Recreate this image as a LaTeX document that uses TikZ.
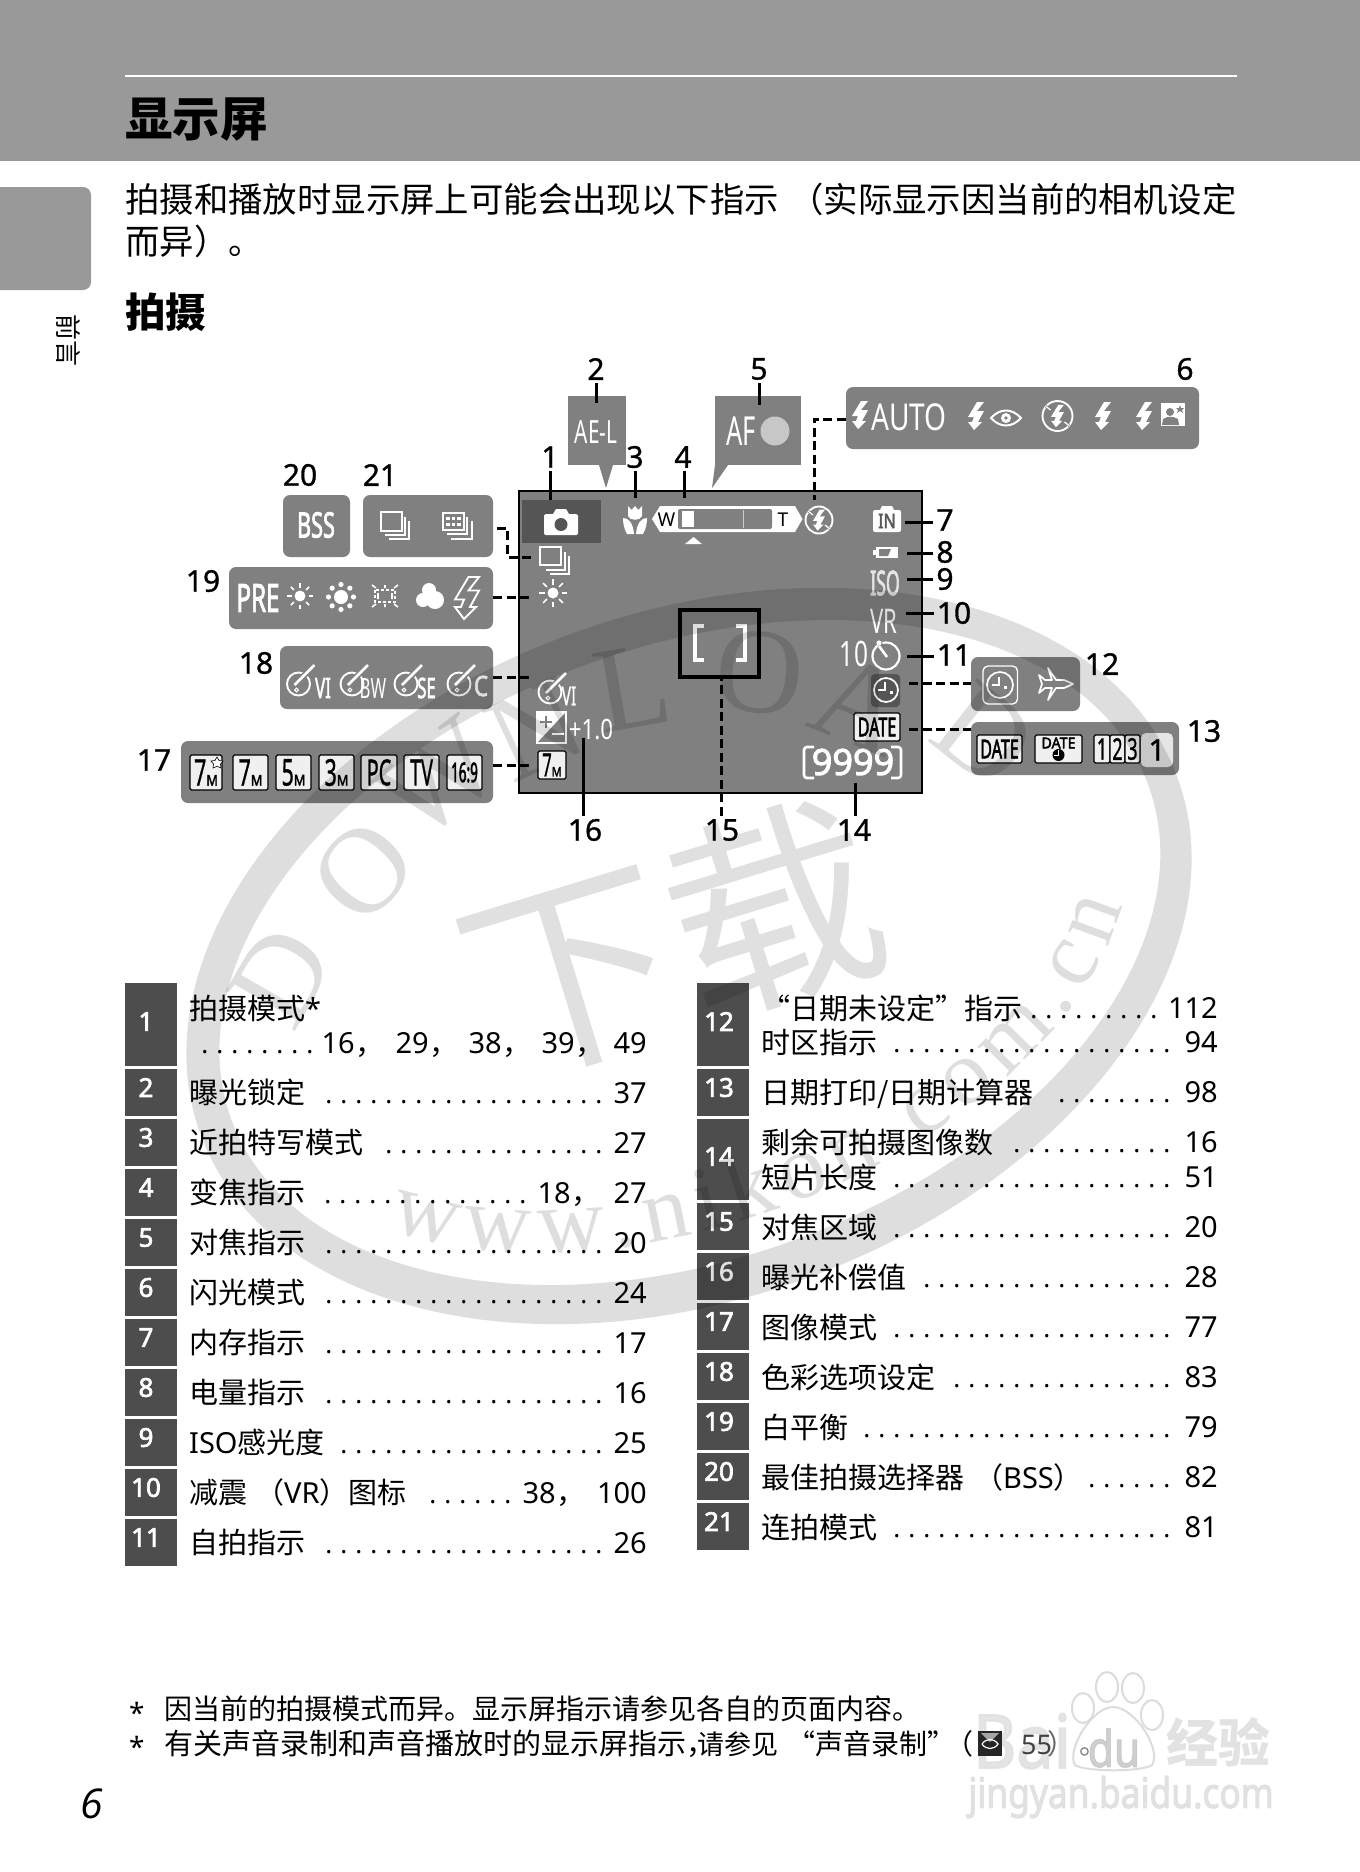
\documentclass[tikz,border=0pt]{standalone}
\usepackage{fontspec}
\usepackage{graphicx}
\usetikzlibrary{decorations.text}
\setmainfont{Noto Sans}
\newfontfamily\cjk{Noto Sans CJK SC}
\newfontfamily\wmf{Liberation Serif}
\newfontfamily\pagef{Open Sans}
\newfontfamily\bdf[FakeBold=2.6]{Noto Sans}
\newfontfamily\labf[FakeBold=1]{Noto Sans}
\newcommand\fsz[1]{\fontsize{#1pt}{#1pt}\selectfont}
\newcommand\cond[2]{\scalebox{#1}[1]{#2}}
\definecolor{hdr}{HTML}{999999}
\definecolor{pan}{HTML}{808080}
\definecolor{nbx}{HTML}{4D4D4D}
\definecolor{drk}{HTML}{555555}
\tikzset{
  panelst/.style={fill=pan,rounded corners=7pt,inner sep=0pt},
  lab/.style={font=\fsz{30}\labf,inner sep=3pt,text=black},
  conn/.style={draw=black,line width=3pt},
  dconn/.style={draw=black,line width=3pt,dash pattern=on 9pt off 4.5pt},
  wl/.style={draw=white,line width=1.7pt},
  tx/.style={anchor=base west,inner sep=0pt,font=\fsz{29}\cjk,text=black},
  numt/.style={anchor=base east,inner sep=0pt,font=\fsz{29},text=black},
  dotst/.style={anchor=base east,inner sep=0pt,font=\fsz{26},text=black},
  numbox/.style={inner sep=0pt,font=\fsz{26}\bdf,text=white},
  lcd/.style={fill=white!94!black,draw=black,line width=1.1pt,rounded corners=1.5pt,inner sep=0pt,text=black,font=\fsz{14}},
  icont/.style={inner sep=0pt,text=white},
  wmlet/.style={opacity=.13,inner sep=0pt,font=\fsz{122}\wmf,text=black},
}
\newcommand\panelbox[5]{%
  \pgfmathsetmacro\pcx{(#2+#4)/2}\pgfmathsetmacro\pcy{(#3+#5)/2}%
  \pgfmathsetmacro\pw{#4-#2}\pgfmathsetmacro\ph{#5-#3}%
  \node[panelst,minimum width=\pw pt,minimum height=\ph pt] (#1) at (\pcx,\pcy) {};}
\newcommand\lcdbox[6]{%
  \pgfmathsetmacro\pcx{(#2+#4)/2}\pgfmathsetmacro\pcy{(#3+#5)/2}%
  \pgfmathsetmacro\pw{#4-#2}\pgfmathsetmacro\ph{#5-#3}%
  \node[lcd,minimum width=\pw pt,minimum height=\ph pt] (#1) at (\pcx,\pcy) {#6};}
\newcommand\lcdt[2]{{\fsz{37}\labf\cond{.58}{#1}}{\fsz{15}\bdf\cond{.85}{#2}}}
\newcommand\dotsn[1]{\hbox to \dimexpr 15pt*#1\relax{\leaders\hbox to 15pt{\hss.\hss}\hfill}}
\newcommand\tabrow[8]{% id textx yc text n dotsend numx num
  \node[tx] (t#1) at (#2,{#3+11}) {#4};
  \node[dotst] (d#1) at (#6,{#3+10.5}) {\dotsn{#5}};
  \node[numt] (v#1) at (#7,{#3+10.5}) {#8};}
\newcommand\rl[5]{\tabrow{#1}{189}{#2}{#3}{#4}{606.5}{647}{#5}}
\newcommand\rr[5]{\tabrow{#1}{761}{#2}{#3}{#4}{1174.5}{1218}{#5}}
\newcommand\nb[5]{% id x top bot label
  \fill[nbx] (#2,#3) rectangle ({#2+51.5},#4);
  \node[numbox] (b#1) at ({#2+(#1<12?21:22)},{(#3+#4)/2-(#4-#3>60?3:5)}) {#5};}
\newcommand\boltf[3]{\begin{scope}[shift={(#1,#2)},scale=#3]
  \fill[white] (1,-14)--(-8,1)--(-2,1)--(-4,6)--(-8,6)--(-2,14)--(6,6)--(2,6)--(8,-5)--(1,-5)--(8,-14)--cycle;
\end{scope}}
\newcommand\clockic[3]{\begin{scope}[shift={(#1,#2)}]
  \draw[wl] (0,0) circle[radius=#3];
  \draw[white,line width=1.4pt] (-1,-8)--(-1,0)--(-8,0);
  \fill[white] (4,1) rectangle (7,4);
\end{scope}}
\newcommand\stackic[2]{\begin{scope}[shift={(#1,#2)}]
  \draw[wl,line width=2pt] (0,0) rectangle (21,19);
  \draw[wl] (24,5)--(24,23)--(4,23);
  \draw[wl] (28,9)--(28,27)--(8,27);
\end{scope}}
\newcommand\sunic[3]{\begin{scope}[shift={(#1,#2)}]
  \fill[white] (0,0) circle[radius=5.5];
  \foreach \a in {0,45,...,315} \draw[white,line width=1.5pt] (\a:8.5)--(\a:#3);
\end{scope}}
\newcommand\brushic[2]{\begin{scope}[shift={(#1,#2)}]
  \draw[wl,line width=1.9pt] (0,0) circle[radius=11.5];
  \draw[pan,line width=6pt] (-2,0)--(15,-19);
  \draw[white,line width=2.6pt] (-4,1)--(16,-19);
  \draw[white,line width=1.1pt] (-2,6) circle[radius=1.9];
\end{scope}}
\begin{document}
\begin{tikzpicture}[x=1pt,y=-1pt]
\useasboundingbox (0,0) rectangle (1360,1872);
\fill[white] (0,0) rectangle (1360,1872);
% header
\fill[hdr] (0,0) rectangle (1360,161);
\draw[white,line width=1.4pt] (125,76)--(1237,76);
\node[anchor=base west,inner sep=0pt,font=\fsz{47.5}\cjk\bfseries] (title) at (125,136) {显示屏};
% side tab
\fill[hdr,rounded corners=8pt] (-12,187) rectangle (91,290);
\node[rotate=-90,inner sep=0pt,font=\fsz{26}\cjk] (tabtext) at (68,340) {前言};
% intro
\node[tx,font=\fsz{34.4}\cjk] (intro1) at (125,212) {拍摄和播放时显示屏上可能会出现以下指示};
\node[tx,font=\fsz{34.4}\cjk] (intro2) at (789,212) {（实际显示因当前的相机设定};
\node[tx,font=\fsz{34.4}\cjk] (intro3) at (125,254) {而异）。};
\node[anchor=base west,inner sep=0pt,font=\fsz{40.5}\cjk\bfseries] (sub) at (125,327) {拍摄};
% screen
\node[fill=pan,draw=black,line width=2.2pt,inner sep=0pt,minimum width=403pt,minimum height=302pt] (screen) at (720.5,642) {};
\fill[drk] (522,500) rectangle (601,543);
% callouts
\fill[pan] (568,396) rectangle (626,465);
\fill[pan] (599,465)--(613,465)--(606,488)--cycle;
\node[icont,font=\fsz{32}] (ael) at (596,432) {\cond{.65}{AE-L}};
\fill[pan] (715,396) rectangle (801,465);
\fill[pan] (715,465)--(728,465)--(712,488)--cycle;
\node[icont,font=\fsz{40}] (af) at (741,431) {\cond{.64}{AF}};
\fill[white!78!black] (775,431) circle[radius=14.5];
% panels
\panelbox{p20}{283}{495}{350}{557}
\panelbox{p21}{363}{495}{493}{557}
\panelbox{p19}{229}{567}{493}{629}
\panelbox{p18}{280}{646}{493}{709}
\panelbox{p17}{181}{741}{493}{803}
\panelbox{p6}{846}{387}{1199}{449}
\panelbox{p12}{971}{657}{1080}{711}
\panelbox{p13}{971}{722}{1179}{775}
% panel 20/21
\node[icont,font=\fsz{35}\bdf] (bss) at (316,525) {\cond{.62}{BSS}};
\stackic{381}{512}
\begin{scope}[shift={(443,513)}]
  \draw[wl] (0,0) rectangle (21,17);
  \foreach \i in {0,1,2}\foreach \j in {0,1}{\fill[white] ({3+\i*5.6},{3.5+\j*6}) rectangle ({6.5+\i*5.6},{7+\j*6});}
  \draw[wl] (24,4)--(24,21)--(4,21);
  \draw[wl] (29,8)--(29,26)--(8,26);
\end{scope}
% panel 19
\node[icont,font=\fsz{39}\bdf] (pre) at (258,598) {\cond{.62}{PRE}};
\sunic{300}{596}{13}
\begin{scope}[shift={(341,597)}]
  \fill[white] (0,0) circle[radius=7];
  \foreach \a in {0,45,...,315} \fill[white] (\a:12.5) circle[radius=2.6];
\end{scope}
\begin{scope}[shift={(385,596)}]
  \draw[white,line width=1.5pt,dash pattern=on 3pt off 2pt] (-10,-6) rectangle (10,6);
  \draw[white,line width=1.6pt] (-7,-3)--(-7,3) (7,-3)--(7,3) (0,-11)--(0,-8) (0,8)--(0,11) (-13,-11)--(-9,-8) (13,-11)--(9,-8) (-13,11)--(-9,8) (13,11)--(9,8);
\end{scope}
\begin{scope}[shift={(429,596)}]
  \fill[white] (0,-6) circle[radius=7] (-6,4) circle[radius=7] (6,4) circle[radius=9];
\end{scope}
\begin{scope}[shift={(467,598)},scale=1.5]
  \draw[white,line width=1.9pt] (1,-14)--(-8,1)--(-2,1)--(-4,6)--(-8,6)--(-2,14)--(6,6)--(2,6)--(8,-5)--(1,-5)--(8,-14)--cycle;
\end{scope}
\sunic{553}{593}{14}
% panel 18
\brushic{298.5}{684}
\node[icont,font=\fsz{28}\bdf] (vi1) at (323,688) {\cond{.6}{VI}};
\brushic{352}{684}
\node[icont,font=\fsz{28}] (bw) at (373,688) {\cond{.6}{BW}};
\brushic{406}{684}
\node[icont,font=\fsz{28}\bdf] (se) at (426.5,688) {\cond{.6}{SE}};
\brushic{459}{684}
\node[icont,font=\fsz{28}\bdf] (cc) at (481,686) {\cond{.8}{C}};
\brushic{550}{692}
\node[icont,font=\fsz{26}\labf] (vi2) at (569,696) {\cond{.6}{VI}};
% panel 17
\lcdbox{s1}{190}{755}{222}{790}{\lcdt{7}{M}}
\fill[white,draw=black,line width=.6pt] (217,757) -- (219,760.5) -- (223,761) -- (220.5,764) -- (221,768) -- (217,766.3) -- (213,768) -- (213.5,764) -- (211,761) -- (215,760.5) -- cycle;
\lcdbox{s2}{233}{755}{268}{790}{\lcdt{7}{M}}
\lcdbox{s3}{276}{755}{311}{790}{\lcdt{5}{M}}
\lcdbox{s4}{319}{755}{354}{790}{\lcdt{3}{M}}
\lcdbox{s5}{361}{755}{397}{790}{{\fsz{36}\labf\cond{.55}{PC}}}
\lcdbox{s6}{404}{755}{439}{790}{{\fsz{36}\labf\cond{.55}{TV}}}
\lcdbox{s7}{447}{755}{482}{790}{{\fsz{27}\bdf\cond{.5}{16:9}}}
\lcdbox{s8}{538}{751}{566}{779}{{\fsz{32}\labf\cond{.52}{7}}{\fsz{13}\bdf\cond{.85}{M}}}
% exposure
\fill[white] (537,712) rectangle (566,743);
\fill[pan] (566,712)--(566,743)--(537,743)--cycle;
\draw[wl] (537,712) rectangle (566,743);
\draw[pan,line width=2.2pt] (540,722)--(552,722) (546,716)--(546,728);
\draw[white,line width=2.2pt] (552,734)--(564,734);
\node[icont,font=\fsz{28}] (ev) at (591,730) {\cond{.8}{+1.0}};
% camera
\begin{scope}[shift={(561,522)}]
  \fill[white,rounded corners=1.5pt] (-17,-8) rectangle (17,13);
  \fill[white] (-8,-8)--(-5,-13)--(5,-13)--(8,-8)--cycle;
  \fill[drk] (0,2.5) circle[radius=6.5];
\end{scope}
\draw[wl,line width=2pt] (540,547) rectangle (561,565);
\draw[wl] (565,552)--(565,570)--(546,570);
\draw[wl] (569,556)--(569,574)--(550,574);
% macro
\begin{scope}[shift={(635,520)}]
  \fill[white] (-7,-14)--(-3.5,-10)--(0,-14)--(3.5,-10)--(7,-14)--(7,-4).. controls (6,1) and (-6,1) .. (-7,-4)--cycle;
  \fill[white] (-12,-2) .. controls (-7,-2) and (-2,2) .. (-1,14)--(-8,14) .. controls (-11,9) and (-12,3) .. (-12,-2)--cycle;
  \fill[white] (12,-2) .. controls (7,-2) and (2,2) .. (1,14)--(8,14) .. controls (11,9) and (12,3) .. (12,-2)--cycle;
\end{scope}
% zoom bar
\fill[white] (652,519)--(660,506)--(795,506)--(802.5,519)--(795,532)--(660,532)--cycle;
\fill[pan,rounded corners=2pt] (678,509) rectangle (772,529);
\fill[white] (682,511) rectangle (694,527);
\draw[white!80!black,line width=1pt] (743,510)--(743,528);
\node[inner sep=0pt,font=\fsz{19},text=black] (zw) at (666.5,520) {W};
\node[inner sep=0pt,font=\fsz{19},text=black] (zt) at (783,520) {T};
\fill[white] (685,544)--(702,544)--(693.5,537)--cycle;
% flash off on screen
\begin{scope}[shift={(819,520)}]
  \draw[wl,line width=1.9pt] (0,0) circle[radius=13.5];
  \draw[pan,line width=2.5pt] (-11,-9)--(-6,-5) (11,9)--(6,5);
  \draw[white,line width=1.2pt] (-11,-9)--(-6,-5) (11,9)--(6,5);
\end{scope}
\boltf{819}{520}{.75}
% right side icons
\fill[white,rounded corners=2pt] (873,510) rectangle (901,532);
\fill[white] (880,510)--(882,506)--(892,506)--(894,510)--cycle;
\node[inner sep=0pt,font=\fsz{20}\bdf,text=black!65] (inm) at (887,521) {\cond{.8}{IN}};
\fill[white] (876,547) rectangle (898,558);
\fill[white] (873,550) rectangle (876,555);
\fill[pan] (879,549)--(891,549)--(888,556)--(879,556)--cycle;
\node[icont,font=\fsz{34}\bdf,text=white!90!black] (iso) at (885,583) {\cond{.52}{ISO}};
\node[icont,font=\fsz{34}] (vr) at (883.6,621) {\cond{.65}{VR}};
\node[icont,font=\fsz{35}] (ten) at (854,654) {\cond{.7}{10}};
\begin{scope}[shift={(886,656)}]
  \draw[wl,line width=2.2pt] (0,0) circle[radius=13.5];
  \draw[pan,line width=5pt] (-7,-17)--(-5,-8);
  \draw[white,line width=2.6pt] (1,1)--(-7,-10);
  \fill[white] (-7,-13) circle[radius=2.6];
\end{scope}
\fill[drk,rounded corners=4pt] (871,674) rectangle (900,707);
\clockic{886}{690}{12}
\lcdbox{dt}{854}{713}{900}{741}{{\fsz{26}\bdf\cond{.62}{DATE}}}
\draw[wl,line width=2.6pt,rounded corners=3pt] (814,747)--(804,747)--(804,778)--(814,778);
\draw[wl,line width=2.6pt,rounded corners=3pt] (891,747)--(901,747)--(901,778)--(891,778);
\node[icont,font=\fsz{36}\bdf] (cnt) at (853,762) {9999};
% AF bracket
\draw[black,line width=3.6pt] (680,610) rectangle (759,677);
\draw[white,line width=3.2pt] (704,626)--(695,626)--(695,660)--(704,660);
\draw[white,line width=3.2pt] (736,626)--(745,626)--(745,660)--(736,660);
% panel 6
\boltf{860}{415}{1}
\node[icont,font=\fsz{37}] (auto) at (909,417) {\cond{.76}{AUTO}};
\boltf{976}{416}{1}
\begin{scope}[shift={(1006,418)}]
  \draw[wl,line width=2pt] (-15,0) .. controls (-6,-10) and (6,-10) .. (15,0) .. controls (6,10) and (-6,10) .. (-15,0)--cycle;
  \fill[white] (0,0) circle[radius=5];
  \fill[pan] (0,0) circle[radius=1.8];
\end{scope}
\begin{scope}[shift={(1057.5,416)}]
  \draw[wl,line width=1.9pt] (0,0) circle[radius=15];
  \draw[pan,line width=2.5pt] (-12,-10)--(-7,-6) (12,10)--(7,6);
  \draw[white,line width=1.2pt] (-12,-10)--(-7,-6) (12,10)--(7,6);
\end{scope}
\boltf{1057.5}{416}{.8}
\boltf{1103}{416}{1}
\boltf{1144}{416}{1}
\fill[white] (1161,403) rectangle (1185,426);
\begin{scope}[shift={(1172,415)}]
  \fill[pan] (-2,-3) circle[radius=4] (-10,10)--(-9,4)..controls (-4,1) and (1,1) .. (6,4)--(7,10)--cycle;
  \fill[pan] (8,-10)--(9,-7)--(12,-7)--(10,-5)--(11,-2)--(8,-4)--(5,-2)--(6,-5)--(4,-7)--(7,-7)--cycle;
\end{scope}
% panel 12
\draw[white,line width=1.3pt,rounded corners=5pt] (983,666) rectangle (1017.5,704);
\clockic{1000}{685}{13}
\draw[wl,fill=pan,line join=round] (1073,684)--(1064,680)--(1056,680)--(1048,668)--(1052,680)--(1045,680)--(1039,675)--(1042,684)--(1039,693)--(1045,688)--(1052,688)--(1048,700)--(1056,688)--(1064,688)--cycle;
% panel 13
\lcdbox{d1}{977}{735}{1022}{763}{{\fsz{26}\bdf\cond{.62}{DATE}}}
\lcdbox{d2}{1035}{735}{1082}{763}{}
\node[inner sep=0pt,font=\fsz{15}\bdf,text=black] (d2t) at (1058.5,743) {\cond{.95}{DATE}};
\fill[black] (1058.5,755) circle[radius=6];
\draw[white,line width=1pt] (1058.5,750)--(1058.5,755)--(1054,755);
\lcdbox{c1}{1094}{735}{1110}{763}{{\fsz{30}\labf\cond{.6}{1}}}
\lcdbox{c2}{1110}{735}{1125}{763}{{\fsz{30}\labf\cond{.6}{2}}}
\lcdbox{c3}{1125}{735}{1140}{763}{{\fsz{30}\labf\cond{.6}{3}}}
\fill[white!90!black,rounded corners=5pt] (1141,733) rectangle (1173,767);
\node[inner sep=0pt,font=\fsz{30}\labf,text=black] (c4) at (1157,750) {1};
% labels
\node[lab] (n1) at (550,457) {1};
\node[lab] (n2) at (596,369) {2};
\node[lab] (n3) at (635,457) {3};
\node[lab] (n4) at (683,457) {4};
\node[lab] (n5) at (759,369) {5};
\node[lab] (n6) at (1185,369) {6};
\node[lab] (n7) at (945,520) {7};
\node[lab] (n8) at (945,552) {8};
\node[lab] (n9) at (945,579) {9};
\node[lab] (n10) at (954,613) {10};
\node[lab] (n11) at (954,655) {11};
\node[lab] (n12) at (1102,664) {12};
\node[lab] (n13) at (1204,731) {13};
\node[lab] (n14) at (854,830) {14};
\node[lab] (n15) at (722,830) {15};
\node[lab] (n16) at (585,830) {16};
\node[lab] (n17) at (154,760) {17};
\node[lab] (n18) at (256,663) {18};
\node[lab] (n19) at (203,581) {19};
\node[lab] (n20) at (300,475) {20};
\node[lab] (n21) at (380,475) {21};
% connector ends
\coordinate (e1) at (550,500);
\coordinate (e2) at (596,403);
\coordinate (e3) at (635,498);
\coordinate (e4) at (684,498);
\coordinate (e5) at (759,405);
\coordinate (e6) at (814,500);
\coordinate (e7) at (905,522);
\coordinate (e8) at (907,553);
\coordinate (e9) at (907,579);
\coordinate (e10) at (906,613);
\coordinate (e11) at (907,656);
\coordinate (e12) at (909,683);
\coordinate (e13) at (909,729);
\coordinate (e14) at (855,783);
\coordinate (e15) at (721,677);
\coordinate (e16) at (583,738);
\coordinate (e17) at (532.5,765);
\coordinate (e18) at (532.5,677);
\coordinate (e19) at (532.5,597);
\coordinate (e21) at (532.5,557);
\coordinate (e21a) at (507.5,528);
\coordinate (e21b) at (507.5,557);
\draw[conn] (e1 |- n1.south) -- (e1);
\draw[conn] (e2 |- n2.south) -- (e2);
\draw[conn] (e3 |- n3.south) -- (e3);
\draw[conn] (e4 |- n4.south) -- (e4);
\draw[conn] (e5 |- n5.south) -- (e5);
\draw[dconn] (p6.west |- 0,419) -- (814,419) -- (e6);
\draw[conn] (e7 -| n7.west) -- (e7);
\draw[conn] (e8 -| n8.west) -- (e8);
\draw[conn] (e9 -| n9.west) -- (e9);
\draw[conn] (e10 -| n10.west) -- (e10);
\draw[conn] (e11 -| n11.west) -- (e11);
\draw[dconn] (e12) -- (e12 -| p12.west);
\draw[dconn] (e13) -- (e13 -| p13.west);
\draw[conn] (e14 |- n14.north) -- (e14);
\draw[dconn] (e15 |- n15.north) -- (e15);
\draw[conn] (e16 |- n16.north) -- (e16);
\draw[dconn] (e17 -| p17.east) -- (e17);
\draw[dconn] (e18 -| p18.east) -- (e18);
\draw[dconn] (e19 -| p19.east) -- (e19);
\draw[dconn] (e21a -| p21.east) ++(4,0) -- (e21a) -- (e21b) -- (e21);
% left table
\nb{1}{125}{983}{1066}{1}
\nb{2}{125}{1069}{1116}{2}
\nb{3}{125}{1119}{1166}{3}
\nb{4}{125}{1169}{1216}{4}
\nb{5}{125}{1219}{1266}{5}
\nb{6}{125}{1269}{1316}{6}
\nb{7}{125}{1319}{1366}{7}
\nb{8}{125}{1369}{1416}{8}
\nb{9}{125}{1419}{1466}{9}
\nb{10}{125}{1469}{1516}{10}
\nb{11}{125}{1519}{1566}{11}
\node[tx] (t1) at (189,1019) {拍摄模式{\rmfamily *}};
\node[dotst] (d1) at (317.5,1053.5) {\dotsn{8}};
\node[numt] (v1a) at (355,1053.5) {16};
\node[tx] (k1a) at (355,1054) {，};
\node[numt] (v1b) at (429,1053.5) {29};
\node[tx] (k1b) at (429,1054) {，};
\node[numt] (v1c) at (502,1053.5) {38};
\node[tx] (k1c) at (502,1054) {，};
\node[numt] (v1d) at (575,1053.5) {39};
\node[tx] (k1d) at (575,1054) {，};
\node[numt] (v1e) at (647,1053.5) {49};
\rl{2}{1092.5}{曝光锁定}{19}{37}
\rl{3}{1142.5}{近拍特写模式}{15}{27}
\tabrow{4}{189}{1192.5}{变焦指示}{14}{530.5}{647}{27}
\node[numt] (v4a) at (571,1203) {18};
\node[tx] (k4a) at (571,1203.5) {，};
\rl{5}{1242.5}{对焦指示}{19}{20}
\rl{6}{1292.5}{闪光模式}{19}{24}
\rl{7}{1342.5}{内存指示}{19}{17}
\rl{8}{1392.5}{电量指示}{19}{16}
\rl{9}{1442.5}{{\rmfamily ISO}感光度}{18}{25}
\tabrow{10}{189}{1492.5}{减震\hspace{8pt}（{\rmfamily VR}）图标}{6}{515.5}{647}{100}
\node[numt] (v10a) at (556,1503) {38};
\node[tx] (k10a) at (556,1503.5) {，};
\rl{11}{1542.5}{自拍指示}{19}{26}
% right table
\nb{12}{697}{983}{1066}{12}
\nb{13}{697}{1069}{1116}{13}
\nb{14}{697}{1119}{1200}{14}
\nb{15}{697}{1203}{1250}{15}
\nb{16}{697}{1253}{1300}{16}
\nb{17}{697}{1303}{1350}{17}
\nb{18}{697}{1353}{1400}{18}
\nb{19}{697}{1403}{1450}{19}
\nb{20}{697}{1453}{1500}{20}
\nb{21}{697}{1503}{1550}{21}
\tabrow{12}{761}{1008}{“日期未设定”指示}{9}{1161.5}{1218}{112}
\rr{12b}{1042}{时区指示}{19}{94}
\rr{13}{1092}{日期打印/日期计算器}{8}{98}
\rr{14}{1142}{剩余可拍摄图像数}{11}{16}
\rr{14b}{1177}{短片长度}{19}{51}
\rr{15}{1227}{对焦区域}{19}{20}
\rr{16}{1277}{曝光补偿值}{17}{28}
\rr{17}{1327}{图像模式}{19}{77}
\rr{18}{1377}{色彩选项设定}{15}{83}
\rr{19}{1427}{白平衡}{21}{79}
\rr{20}{1477}{最佳拍摄选择器\hspace{10pt}（{\rmfamily BSS}）}{6}{82}
\rr{21}{1527}{连拍模式}{19}{81}
% Baidu mark
\begin{scope}[opacity=.85]
  \node[inner sep=0pt,font=\fsz{74}\bdf,text=black!12] (bai) at (1022,1741) {\cond{.9}{Bai}};
  \foreach \p/\r in {1083/1708,1107/1687,1133/1688,1152/1715}
    \draw[black!16,fill=white,line width=2pt] (\p,\r) ellipse[x radius=11,y radius=15];
  \draw[black!16,fill=white,line width=2pt] (1113,1707) .. controls (1135,1707) and (1162,1750) .. (1152,1765) .. controls (1142,1772) and (1085,1772) .. (1075,1765) .. controls (1066,1750) and (1092,1707) .. (1113,1707);
  \node[inner sep=0pt,font=\fsz{50}\bdf,text=black!22] (du) at (1114,1748) {\cond{.85}{du}};
  \node[inner sep=0pt,font=\fsz{52}\cjk\bfseries,text=black!13] (jy) at (1218,1742) {经验};
  \node[inner sep=0pt,font=\fsz{42}\bdf,text=black!13] (url) at (1121,1797) {\cond{.84}{jingyan.baidu.com}};
\end{scope}
% footnotes
\node[anchor=base west,inner sep=0pt,font=\fsz{28}] (fs1) at (129,1723) {*};
\node[tx,font=\fsz{28}\cjk] (f1) at (164,1719) {因当前的拍摄模式而异。显示屏指示请参见各自的页面内容。};
\node[anchor=base west,inner sep=0pt,font=\fsz{28}] (fs2) at (129,1757) {*};
\node[tx,font=\fsz{29}\cjk] (f2) at (164,1754) {有关声音录制和声音播放时的显示屏指示，};
\node[tx,font=\fsz{27}\cjk] (f3) at (697,1754) {请参见};
\node[tx,font=\fsz{28}\cjk] (f4) at (787,1754) {“声音录制”};
\node[tx,font=\fsz{28}\cjk] (f5) at (945,1754) {（};
\fill[black!85] (978,1731) rectangle (1002,1756);
\fill[white!65!black] (981,1733)--(999,1733)--(990,1742)--cycle;
\draw[white,line width=1.2pt] (982,1744) .. controls (986,1738) and (994,1738) .. (998,1744) .. controls (994,1750) and (986,1750) .. (982,1744);
\node[anchor=base west,inner sep=0pt,font=\fsz{27},text=black!75] (f6) at (1021,1754) {55};
\node[tx,font=\fsz{28}\cjk,text=black!60] (f7) at (1047,1754) {）};
\node[tx,font=\fsz{28}\cjk,text=black!50] (f8) at (1079,1754) {。};
% page number
\node[anchor=base,inner sep=0pt,font=\fsz{41}\pagef\itshape] (pg) at (92,1818) {6};
% watermark
\begin{scope}[opacity=.13,shift={(689,956)},rotate=20,x=1pt,y=1pt]
  \fill[black,even odd rule] (0,0) ellipse[x radius=520,y radius=343] (2,3) ellipse[x radius=488,y radius=306];
  \path[decorate,decoration={text along path,text align={fit to path},text={|\wmf\fsz{92}\color{black}|www.nikon.com.cn}}]
    (0,0) ++(215:458 and 268) arc[start angle=215,end angle=338,x radius=458,y radius=268];
\end{scope}
\node[wmlet,rotate=60] (w1) at (281,976) {D};
\node[wmlet,rotate=48] (w2) at (363,871) {O};
\node[wmlet,rotate=38] (w3) at (439,779) {W};
\node[wmlet,rotate=25] (w4) at (536,730) {N};
\node[wmlet,rotate=10] (w5) at (632,688) {L};
\node[wmlet,rotate=-5] (w6) at (760,673) {O};
\node[wmlet,rotate=-22] (w7) at (860,705) {A};
\node[wmlet,rotate=-38] (w8) at (985,735) {D};
\node[opacity=.12,rotate=17,inner sep=0pt,font=\fsz{212}\cjk,text=black] (xz) at (672,940) {下载};
\end{tikzpicture}
\end{document}
